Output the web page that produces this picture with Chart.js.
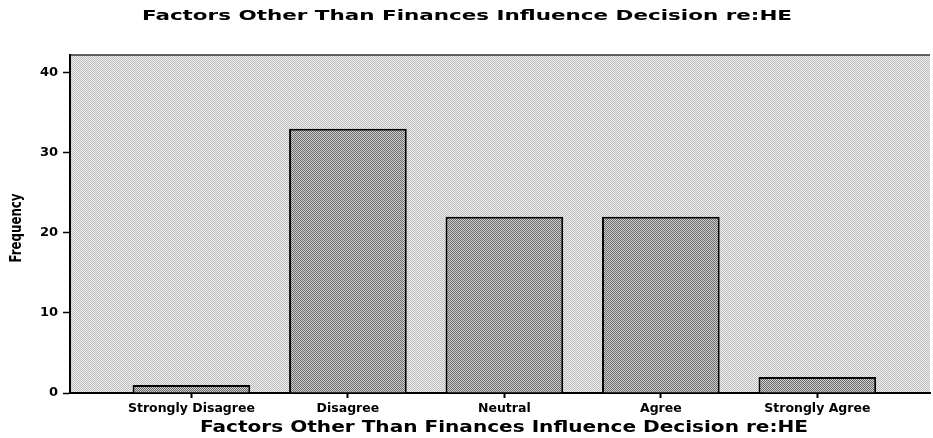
<!DOCTYPE html>
<html>
<head>
<meta charset="utf-8">
<script src="https://cdn.jsdelivr.net/npm/chart.js@4/dist/chart.umd.min.js"></script>
<style>
  html, body { margin: 0; padding: 0; background: #fff; }
  canvas { display: block; }
</style>
</head>
<body>
<canvas id="freqChart" width="933" height="438"></canvas>
<script>
const chartTitle = 'Factors Other Than Finances Influence Decision re:HE';
const xTitle = 'Factors Other Than Finances Influence Decision re:HE';
const yTitle = 'Frequency';
const categories = ['Strongly Disagree', 'Disagree', 'Neutral', 'Agree', 'Strongly Agree'];
const frequencies = [1, 33, 22, 22, 2];
const yTicks = [0, 10, 20, 30, 40];

function dither(light, dark) {
  const c = document.createElement('canvas');
  c.width = 2; c.height = 2;
  const g = c.getContext('2d');
  g.fillStyle = light;
  g.fillRect(0, 0, 2, 2);
  g.fillStyle = dark;
  g.fillRect(0, 0, 1, 1);
  g.fillRect(1, 1, 1, 1);
  return g.createPattern(c, 'repeat');
}

const plotFill = dither('#ececec', '#c0c0c0');
const barFill = dither('#d0d0d0', '#6a6a6a');

// draws text squeezed or stretched to a given width
function fitText(ctx, text, font, cx, cy, width, angle) {
  ctx.save();
  ctx.font = font;
  const w = ctx.measureText(text).width;
  ctx.translate(cx, cy);
  if (angle) ctx.rotate(angle);
  ctx.scale(width / w, 1);
  ctx.fillStyle = '#000';
  ctx.textAlign = 'center';
  ctx.textBaseline = 'middle';
  ctx.fillText(text, 0, 0);
  ctx.restore();
}

const plotBackground = {
  id: 'plotBackground',
  beforeDraw(chart) {
    const { ctx, chartArea: a } = chart;
    ctx.save();
    ctx.fillStyle = plotFill;
    ctx.fillRect(a.left, a.top, a.right - a.left, a.bottom - a.top);
    ctx.strokeStyle = '#333';
    ctx.lineWidth = 1.5;
    ctx.beginPath();
    ctx.moveTo(a.left, a.top);
    ctx.lineTo(a.right, a.top);
    ctx.stroke();
    ctx.restore();
  }
};

const titles = {
  id: 'titles',
  afterDraw(chart) {
    const ctx = chart.ctx;
    fitText(ctx, chartTitle, 'bold 14px "DejaVu Sans"', 467, 16, 650);
    fitText(ctx, xTitle, 'bold 16px "DejaVu Sans"', 504, 428, 608);
    fitText(ctx, yTitle, 'bold 16px "DejaVu Sans"', 17, 228, 69, -Math.PI / 2);
  }
};

new Chart(document.getElementById('freqChart'), {
  type: 'bar',
  data: {
    datasets: [{
      data: categories.map((c, i) => ({ x: i, y: frequencies[i] })),
      backgroundColor: barFill,
      borderColor: '#000',
      borderWidth: 2,
      borderSkipped: 'bottom',
      categoryPercentage: 1,
      barPercentage: 0.752
    }]
  },
  options: {
    responsive: false,
    animation: false,
    layout: { padding: { top: 55, right: 3, left: 0, bottom: 0 } },
    plugins: { legend: { display: false }, tooltip: { enabled: false } },
    scales: {
      x: {
        type: 'linear',
        min: -0.776,
        max: 4.72,
        offset: false,
        afterBuildTicks: s => { s.ticks = categories.map((c, i) => ({ value: i })); },
        afterFit: s => { s.height = 45; },
        grid: { offset: false, drawOnChartArea: false, tickLength: 5, tickColor: '#000', tickWidth: 2 },
        border: { color: '#000', width: 2 },
        ticks: {
          autoSkip: false,
          maxRotation: 0,
          padding: 3,
          color: '#000',
          font: { family: 'DejaVu Sans', size: 12.5, weight: 'bold' },
          callback: v => categories[v]
        }
      },
      y: {
        min: 0,
        max: 42.2,
        afterBuildTicks: s => { s.ticks = yTicks.map(v => ({ value: v })); },
        afterFit: s => { s.width = 70; },
        grid: { drawOnChartArea: false, tickLength: 7, tickColor: '#000', tickWidth: 1.5 },
        border: { color: '#000', width: 2 },
        ticks: {
          padding: 5,
          color: '#000',
          font: { family: 'DejaVu Sans', size: 13, weight: 'bold' }
        }
      }
    }
  },
  plugins: [plotBackground, titles]
});
</script>
</body>
</html>
